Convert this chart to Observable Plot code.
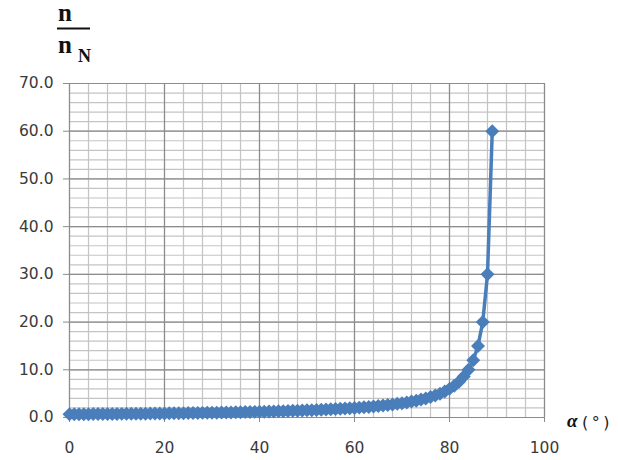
<!DOCTYPE html>
<html><head><meta charset="utf-8">
<script src="https://cdn.jsdelivr.net/npm/d3@7"></script>
<script src="https://cdn.jsdelivr.net/npm/@observablehq/plot@0.6"></script>
<style>
html,body{margin:0;padding:0;background:#fff;}
#wrap{position:relative;width:618px;height:460px;overflow:hidden;}
#overlay{position:absolute;left:0;top:0;pointer-events:none;}
</style></head><body>
<div id="wrap"></div>
<script>
// angle alpha in degrees
const angles = [0,1,2,3,4,5,6,7,8,9,10,11,12,13,14,15,16,17,18,19,20,21,22,23,24,25,26,27,28,29,
  30,31,32,33,34,35,36,37,38,39,40,41,42,43,44,45,46,47,48,49,50,51,52,53,54,55,56,57,58,59,
  60,61,62,63,64,65,66,67,68,69,70,71,72,73,74,75,76,77,78,79,80,81,82,83,84,85,86,87,88,89];
// n / n_N
const ratio = [0.67,0.67,0.68,0.69,0.70,0.71,0.71,0.72,0.73,0.74,0.75,0.76,0.77,0.78,0.79,0.80,0.81,0.82,0.83,0.85,
  0.86,0.87,0.88,0.90,0.91,0.92,0.94,0.95,0.97,0.98,1.00,1.02,1.03,1.05,1.07,1.09,1.11,1.13,1.15,1.18,
  1.20,1.22,1.25,1.28,1.30,1.33,1.36,1.40,1.43,1.46,1.50,1.54,1.58,1.62,1.67,1.71,1.76,1.82,1.88,1.94,
  2.00,2.07,2.14,2.22,2.31,2.40,2.50,2.61,2.73,2.86,3.00,3.16,3.33,3.53,3.75,4.00,4.29,4.62,5.00,5.45,
  6.00,6.67,7.50,8.57,10.00,12.00,15.00,20.00,30.00,60.00];
const yTicks = [0,10,20,30,40,50,60,70];
const xTicks = [0,20,40,60,80,100];
const xMinor = [0,4,8,12,16,20,24,28,32,36,40,44,48,52,56,60,64,68,72,76,80,84,88,92,96,100];
const yMinor = [0,2,4,6,8,10,12,14,16,18,20,22,24,26,28,30,32,34,36,38,40,42,44,46,48,50,52,54,56,58,60,62,64,66,68,70];

const data = angles.map((a, i) => ({a, v: ratio[i]}));
const blue = "#4a7ebb";

const chart = Plot.plot({
  width: 618, height: 460,
  marginLeft: 69, marginRight: 74, marginTop: 83, marginBottom: 43,
  style: {fontFamily: "DejaVu Sans", fontSize: "15.5px", color: "#3a3a3a", background: "#fff"},
  x: {domain: [0, 100]},
  y: {domain: [0, 70]},
  marks: [
    Plot.ruleX(xMinor, {stroke: "#c4c4c4", strokeWidth: 1.2}),
    Plot.ruleY(yMinor, {stroke: "#c4c4c4", strokeWidth: 1.2}),
    Plot.ruleX(xTicks, {stroke: "#8c8c8c", strokeWidth: 1.2}),
    Plot.ruleY(yTicks, {stroke: "#8c8c8c", strokeWidth: 1.2}),
    Plot.axisY({ticks: yTicks, tickFormat: d => d.toFixed(1), tickSize: 6, tickPadding: 10, label: null, stroke: "#8c8c8c"}),
    Plot.axisX({ticks: xTicks, tickFormat: d => String(d), tickSize: 5, tickPadding: 19, label: null, stroke: "#8c8c8c"}),
    Plot.line(data, {x: "a", y: "v", stroke: blue, strokeWidth: 3.5}),
    Plot.dot(data, {x: "a", y: "v", symbol: "diamond2", r: 6.3, fill: blue, stroke: "none"})
  ]
});
const wrap = document.getElementById("wrap");
wrap.appendChild(chart);

const ns = "http://www.w3.org/2000/svg";
const ov = document.createElementNS(ns, "svg");
ov.setAttribute("id", "overlay");
ov.setAttribute("width", 618);
ov.setAttribute("height", 460);
ov.innerHTML = `
  <text x="58" y="21" font-family="Liberation Serif" font-weight="bold" font-size="25" fill="#111">n</text>
  <line x1="57" x2="90" y1="28.5" y2="28.5" stroke="#111" stroke-width="2.2"/>
  <text x="58" y="53" font-family="Liberation Serif" font-weight="bold" font-size="25" fill="#111">n</text>
  <text x="78" y="62" font-family="Liberation Serif" font-weight="bold" font-size="18" fill="#111">N</text>
  <text x="567" y="427" font-family="Liberation Serif" font-weight="bold" font-style="italic" font-size="19" fill="#111">α</text>
  <text x="582" y="428" font-family="DejaVu Sans" font-size="16" letter-spacing="3.5" fill="#222">(°)</text>
`;
wrap.appendChild(ov);
</script>
</body></html>
